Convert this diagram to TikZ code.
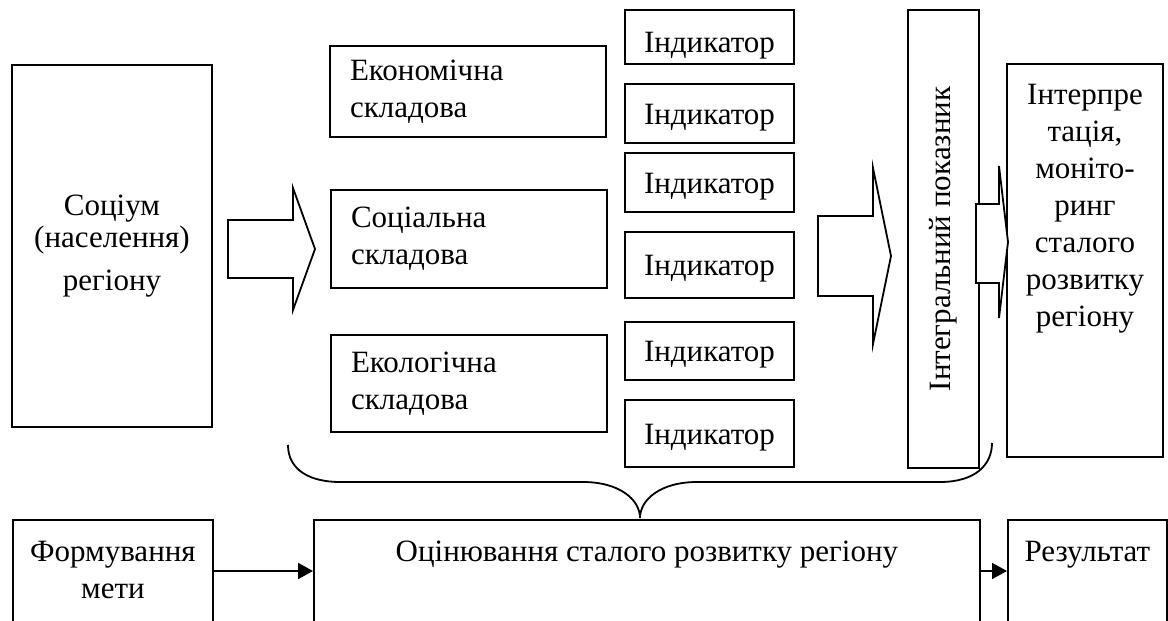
\documentclass[tikz,border=0pt]{standalone}
\usepackage{fontspec}
\setmainfont{Liberation Serif}
\usetikzlibrary{positioning}
\usetikzlibrary{arrows.meta}

\begin{document}
\begin{tikzpicture}[x=0.5pt, y=-0.5pt, line width=0.9pt,
    font=\fontsize{15.5}{18.5}\selectfont,
    box/.style={draw, rectangle, inner sep=0pt},
    part/.style={box, minimum width=138pt, text width=118pt, align=left},
    ind/.style={box, minimum width=84.5pt, text height=12.5pt, text depth=2pt},
    txt/.style={inner sep=0pt, align=center},
    blockarrow/.style={draw, fill=white, line join=miter},
    arr/.style={-{Triangle[length=7.5pt,width=8pt]}}]

\useasboundingbox (0,0) rectangle (1168,621);
\clip (0,0) rectangle (1168,621);

    \node[box, minimum width=100pt, minimum height=181pt, align=center,
          font=\fontsize{15.5}{16}\selectfont] (soc) at (112,246)
          {Соціум\\(населення)\\[5.5pt]регіону};

    \node[part, minimum height=45.5pt] (econ) at (468,91.5) {Економічна\\складова};
    \node[part, minimum height=49pt]   (socl) at (469,239)  {Соціальна\\складова};
    \node[part, minimum height=48.5pt] (ecol) at (469,383.5) {Екологічна\\складова};

    \node[ind, minimum height=27pt, text height=17pt] (ind1) at (709.5,37) {Індикатор};
    \node[ind, minimum height=29.5pt] (ind2) at (709.5,113.5) {Індикатор};
    \node[ind, minimum height=29.5pt] (ind3) at (709.5,182.5) {Індикатор};
    \node[ind, minimum height=33pt]   (ind4) at (709.5,265)   {Індикатор};
    \node[ind, minimum height=29pt]   (ind5) at (709.5,351)   {Індикатор};
    \node[ind, minimum height=33.5pt] (ind6) at (709.5,433.5) {Індикатор};

    \node[box, rotate=90, minimum width=229pt, minimum height=35.5pt] (integ) at (943.5,239)
          {Інтегральний показник};

    \node[box, minimum width=78pt, minimum height=196.5pt] (interp) at (1085,260.5) {};
    \node[txt, below=10pt of interp.north] (interp text)
          {Інтерпре\\тація,\\моніто-\\ринг\\сталого\\розвитку\\регіону};

    \draw[blockarrow] (228,220) -- (293,220) -- (293,188) -- (315,249) -- (293,310) -- (293,278) -- (228,278) -- cycle;
    \draw[blockarrow] (818,216) -- (873,216) -- (873,168) -- (891,256) -- (873,344) -- (873,296) -- (818,296) -- cycle;
    \draw[blockarrow] (976,204) -- (999,204) -- (999,166) -- (1008,242) -- (999,318) -- (999,283) -- (976,283) -- cycle;

    \draw (288,445) .. controls (288,470) and (310,482) .. (340,482) -- (583,482)
          .. controls (620,482) and (640,500) .. (640,518)
          .. controls (640,500) and (660,482) .. (697,482) -- (940,482)
          .. controls (975,482) and (992,465) .. (992,443);

    \node[box, anchor=north west, minimum width=100pt, minimum height=80pt]   (goal)   at (12,519)   {};
    \node[box, anchor=north west, minimum width=333pt, minimum height=80pt]   (eval)   at (313,519)  {};
    \node[box, anchor=north west, minimum width=79.5pt, minimum height=80pt]  (result) at (1007,519) {};

    \node[txt, below=10.5pt of goal.north]   (goal text)   {Формування\\мети};
    \node[txt, below=10.5pt of eval.north]   (eval text)   {Оцінювання сталого розвитку регіону};
    \node[txt, below=10.5pt of result.north] (result text) {Результат};

    \draw[arr] ([yshift=-26pt]goal.north east) -- ([yshift=-26pt]eval.north west);
    \draw[arr] ([yshift=-26pt]eval.north east) -- ([yshift=-26pt]result.north west);
\end{tikzpicture}
\end{document}
